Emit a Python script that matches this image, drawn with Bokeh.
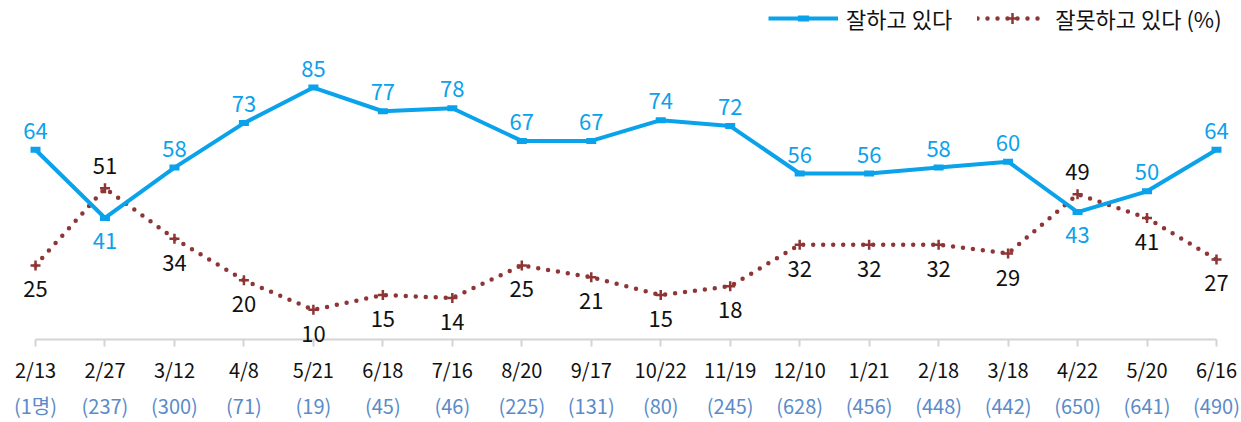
from bokeh.plotting import figure
from bokeh.models import Range1d, LinearAxis, FixedTicker, ColumnDataSource, Legend, LegendItem
from bokeh.core.properties import value
from bokeh.embed import file_html
from bokeh.resources import INLINE

dates = ["2/13", "2/27", "3/12", "4/8", "5/21", "6/18", "7/16", "8/20", "9/17",
         "10/22", "11/19", "12/10", "1/21", "2/18", "3/18", "4/22", "5/20", "6/16"]
samples = ["(1명)", "(237)", "(300)", "(71)", "(19)", "(45)", "(46)", "(225)", "(131)",
           "(80)", "(245)", "(628)", "(456)", "(448)", "(442)", "(650)", "(641)", "(490)"]
good = [64, 41, 58, 73, 85, 77, 78, 67, 67, 74, 72, 56, 56, 58, 60, 43, 50, 64]
bad = [25, 51, 34, 20, 10, 15, 14, 25, 21, 15, 18, 32, 32, 32, 29, 49, 41, 27]

FONT = "Noto Sans CJK KR"
BLUE = "#0aa2ea"
RED = "#8e3636"
GRAY = "#d4d4d4"

xs = list(range(len(dates)))
good_off = [-19 if g >= b else 23 for g, b in zip(good, bad)]
bad_off = [-22 if b > g else 24 for g, b in zip(good, bad)]

src = ColumnDataSource(dict(x=xs, good=good, bad=bad,
                            good_t=[str(v) for v in good], bad_t=[str(v) for v in bad],
                            good_off=good_off, bad_off=bad_off))

p = figure(width=1241, height=422, output_backend="svg", toolbar_location=None,
           x_range=Range1d(-0.504, 17.36), y_range=Range1d(-2.355, 114.36),
           x_axis_location=None, y_axis_location=None,
           min_border_left=0, min_border_right=0, min_border_top=0, min_border_bottom=75)
p.outline_line_color = None
p.xgrid.visible = False
p.ygrid.visible = False

# category axis baseline at value 0, spanning first to last category
p.line(x=[xs[0], xs[-1]], y=[0, 0], line_color=GRAY, line_width=2)

ax1 = LinearAxis(ticker=FixedTicker(ticks=xs), bounds=(0, len(xs) - 1))
ax1.major_label_overrides = {i: d for i, d in enumerate(dates)}
ax1.axis_line_color = None
ax1.major_tick_line_color = GRAY
ax1.major_tick_line_width = 2
ax1.major_tick_in = 7
ax1.major_tick_out = 0
ax1.minor_tick_line_color = None
ax1.major_label_standoff = 8
ax1.major_label_text_font = FONT
ax1.major_label_text_font_size = "20px"
ax1.major_label_text_color = "#111111"
p.add_layout(ax1, "below")

ax2 = LinearAxis(ticker=FixedTicker(ticks=xs))
ax2.major_label_overrides = {i: s for i, s in enumerate(samples)}
ax2.axis_line_color = None
ax2.major_tick_line_color = None
ax2.minor_tick_line_color = None
ax2.major_tick_in = 0
ax2.major_tick_out = 0
ax2.major_label_standoff = 4
ax2.major_label_text_font = FONT
ax2.major_label_text_font_size = "20px"
ax2.major_label_text_color = "#5b8bc9"
p.add_layout(ax2, "below")

l_bad = p.line("x", "bad", source=src, line_color=RED, line_width=4.5,
               line_dash="0 10", line_cap="round")
m_bad = p.scatter("x", "bad", source=src, marker="cross", size=10,
                  line_color=RED, line_width=2.5)
l_good = p.line("x", "good", source=src, line_color=BLUE, line_width=4)
m_good = p.scatter("x", "good", source=src, marker="dash", size=10,
                   line_color=BLUE, line_width=6)

p.text("x", "good", text="good_t", source=src, y_offset="good_off",
       text_align="center", text_baseline="middle", text_font=value(FONT),
       text_font_size="22px", text_color=BLUE)
p.text("x", "bad", text="bad_t", source=src, y_offset="bad_off",
       text_align="center", text_baseline="middle", text_font=value(FONT),
       text_font_size="22px", text_color="#111111")

legend = Legend(items=[LegendItem(label="잘하고 있다", renderers=[l_good, m_good]),
                       LegendItem(label="잘못하고 있다 (%)", renderers=[l_bad, m_bad])],
                orientation="horizontal", location=(768, 312))
legend.glyph_width = 70
legend.glyph_height = 28
legend.label_height = 28
legend.label_standoff = 8
legend.spacing = 25
legend.padding = 0
legend.margin = 0
legend.border_line_color = None
legend.background_fill_alpha = 0
legend.label_text_font = FONT
legend.label_text_font_size = "22px"
legend.label_text_color = "#111111"
p.add_layout(legend)

open("out.html", "w").write(file_html(p, INLINE))
